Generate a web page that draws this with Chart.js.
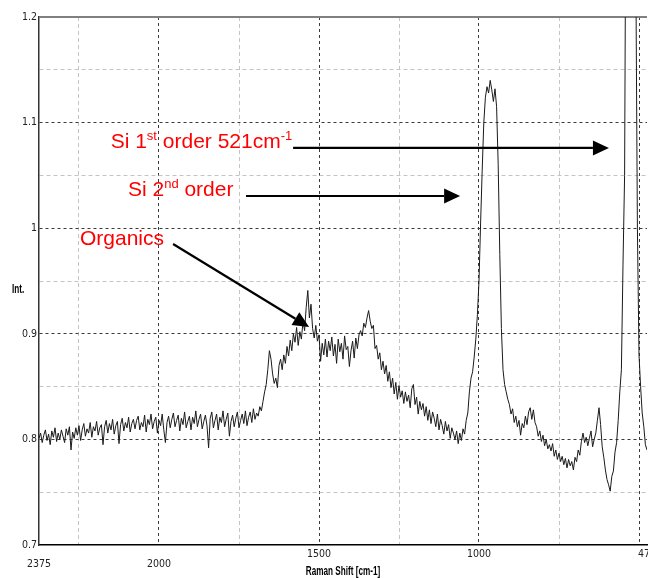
<!DOCTYPE html>
<html>
<head>
<meta charset="utf-8">
<script src="https://cdn.jsdelivr.net/npm/chart.js@4"></script>
<style>
  html, body { margin: 0; padding: 0; background: #fff; }
  canvas { display: block; }
</style>
</head>
<body>
<canvas id="ramanChart" width="648" height="578"></canvas>
<script>
// Raman shift (cm-1), high to low
const shifts = [
  2375, 2370, 2365, 2360, 2355, 2350, 2345, 2340, 2335, 2330, 2325, 2320, 2315, 2310, 2305, 2300, 2295, 2290, 2285, 2280,
  2275, 2270, 2265, 2260, 2255, 2250, 2245, 2240, 2235, 2230, 2225, 2220, 2215, 2210, 2205, 2200, 2195, 2190, 2185, 2180,
  2175, 2170, 2165, 2160, 2155, 2150, 2145, 2140, 2135, 2130, 2125, 2120, 2115, 2110, 2105, 2100, 2095, 2090, 2085, 2080,
  2075, 2070, 2065, 2060, 2055, 2050, 2045, 2040, 2035, 2030, 2025, 2020, 2015, 2010, 2005, 2000, 1995, 1990, 1985, 1980,
  1975, 1970, 1965, 1960, 1955, 1950, 1945, 1940, 1935, 1930, 1925, 1920, 1915, 1910, 1905, 1900, 1895, 1890, 1885, 1880,
  1875, 1870, 1865, 1860, 1855, 1850, 1845, 1840, 1835, 1830, 1825, 1820, 1815, 1810, 1805, 1800, 1795, 1790, 1785, 1780,
  1775, 1770, 1765, 1760, 1755, 1750, 1745, 1740, 1735, 1730, 1725, 1720, 1715, 1710, 1705, 1700, 1695, 1690, 1685, 1680,
  1675, 1670, 1665, 1660, 1655, 1650, 1645, 1640, 1635, 1630, 1625, 1620, 1615, 1610, 1605, 1600, 1595, 1590, 1585, 1580,
  1575, 1570, 1565, 1560, 1555, 1550, 1545, 1540, 1535, 1530, 1525, 1520, 1515, 1510, 1505, 1500, 1495, 1490, 1485, 1480,
  1475, 1470, 1465, 1460, 1455, 1450, 1445, 1440, 1435, 1430, 1425, 1420, 1415, 1410, 1405, 1400, 1395, 1390, 1385, 1380,
  1375, 1370, 1365, 1360, 1355, 1350, 1345, 1340, 1335, 1330, 1325, 1320, 1315, 1310, 1305, 1300, 1295, 1290, 1285, 1280,
  1275, 1270, 1265, 1260, 1255, 1250, 1245, 1240, 1235, 1230, 1225, 1220, 1215, 1210, 1205, 1200, 1195, 1190, 1185, 1180,
  1175, 1170, 1165, 1160, 1155, 1150, 1145, 1140, 1135, 1130, 1125, 1120, 1115, 1110, 1105, 1100, 1095, 1090, 1085, 1080,
  1075, 1070, 1065, 1060, 1055, 1050, 1045, 1040, 1035, 1030, 1025, 1020, 1015, 1010, 1005, 1000, 995, 990, 985, 980,
  975, 970, 965, 960, 955, 950, 945, 940, 935, 930, 925, 920, 915, 910, 905, 900, 895, 890, 885, 880,
  875, 870, 865, 860, 855, 850, 845, 840, 835, 830, 825, 820, 815, 810, 805, 800, 795, 790, 785, 780,
  775, 770, 765, 760, 755, 750, 745, 740, 735, 730, 725, 720, 715, 710, 705, 700, 695, 690, 685, 680,
  675, 670, 665, 660, 655, 650, 645, 640, 635, 630, 625, 620, 615, 610, 605, 600, 595, 590, 585, 580,
  575, 570, 565, 560, 555, 550, 545, 540, 535, 530, 525, 520, 515, 510, 505, 500, 495, 490, 485, 480,
  475
];

// Intensity at each shift (same rows as above)
const intensity = [
  0.801, 0.806, 0.797, 0.804, 0.809, 0.799, 0.805, 0.795, 0.808, 0.802, 0.811, 0.798, 0.806, 0.800, 0.809, 0.803, 0.797, 0.810, 0.804, 0.812,
  0.790, 0.807, 0.801, 0.811, 0.804, 0.813, 0.799, 0.809, 0.815, 0.803, 0.810, 0.806, 0.816, 0.802, 0.812, 0.808, 0.817, 0.804, 0.811, 0.814,
  0.795, 0.812, 0.818, 0.806, 0.815, 0.809, 0.819, 0.805, 0.813, 0.817, 0.796, 0.814, 0.820, 0.808, 0.816, 0.811, 0.821, 0.807, 0.815, 0.819,
  0.810, 0.818, 0.822, 0.809, 0.816, 0.812, 0.823, 0.807, 0.819, 0.814, 0.824, 0.810, 0.817, 0.821, 0.806, 0.818, 0.813, 0.824, 0.809, 0.797,
  0.816, 0.822, 0.811, 0.819, 0.825, 0.812, 0.818, 0.823, 0.808, 0.820, 0.814, 0.826, 0.811, 0.817, 0.822, 0.809, 0.821, 0.815, 0.827, 0.812,
  0.819, 0.824, 0.810, 0.817, 0.823, 0.813, 0.792, 0.820, 0.826, 0.811, 0.818, 0.824, 0.809, 0.821, 0.816, 0.827, 0.812, 0.819, 0.825, 0.803,
  0.817, 0.823, 0.812, 0.820, 0.826, 0.811, 0.818, 0.824, 0.815, 0.827, 0.813, 0.821, 0.826, 0.816, 0.829, 0.819, 0.825, 0.822, 0.831, 0.827,
  0.836, 0.845, 0.852, 0.866, 0.884, 0.876, 0.862, 0.853, 0.858, 0.849, 0.870, 0.876, 0.866, 0.880, 0.872, 0.888, 0.879, 0.894, 0.884, 0.900,
  0.892, 0.906, 0.889, 0.902, 0.895, 0.912, 0.903, 0.925, 0.941, 0.915, 0.928, 0.905, 0.896, 0.908, 0.893, 0.899, 0.874, 0.891, 0.880, 0.895,
  0.878, 0.893, 0.884, 0.897, 0.879, 0.890, 0.872, 0.895, 0.883, 0.891, 0.876, 0.898, 0.885, 0.888, 0.869, 0.884, 0.893, 0.877, 0.896, 0.886,
  0.899, 0.903, 0.898, 0.910, 0.906, 0.915, 0.922, 0.912, 0.905, 0.908, 0.886, 0.889, 0.876, 0.882, 0.866, 0.874, 0.862, 0.870, 0.855, 0.864,
  0.849, 0.858, 0.843, 0.854, 0.838, 0.851, 0.840, 0.846, 0.834, 0.845, 0.836, 0.842, 0.830, 0.848, 0.852, 0.833, 0.840, 0.824, 0.836, 0.828,
  0.834, 0.822, 0.831, 0.818, 0.828, 0.815, 0.826, 0.820, 0.812, 0.824, 0.809, 0.819, 0.813, 0.805, 0.817, 0.808, 0.814, 0.801, 0.811, 0.806,
  0.800, 0.808, 0.796, 0.806, 0.799, 0.810, 0.805, 0.818, 0.825, 0.845, 0.858, 0.864, 0.878, 0.895, 0.918, 0.950, 1.005, 1.055, 1.100, 1.124,
  1.134, 1.128, 1.140, 1.131, 1.120, 1.132, 1.115, 1.060, 0.975, 0.905, 0.866, 0.852, 0.845, 0.838, 0.833, 0.824, 0.829, 0.816, 0.822, 0.812,
  0.818, 0.804, 0.815, 0.811, 0.822, 0.814, 0.826, 0.830, 0.819, 0.828, 0.816, 0.812, 0.803, 0.808, 0.798, 0.804, 0.794, 0.800, 0.791, 0.795,
  0.789, 0.796, 0.784, 0.790, 0.781, 0.787, 0.779, 0.784, 0.776, 0.782, 0.773, 0.781, 0.775, 0.779, 0.771, 0.783, 0.779, 0.790, 0.785, 0.798,
  0.806, 0.797, 0.802, 0.794, 0.801, 0.808, 0.793, 0.800, 0.806, 0.818, 0.830, 0.814, 0.793, 0.783, 0.771, 0.762, 0.757, 0.751, 0.765, 0.770,
  0.788, 0.797, 0.818, 0.845, 0.866, 0.966, 1.050, 1.400, 1.800, 2.000, 2.100, 2.000, 1.700, 1.250, 1.000, 0.880, 0.850, 0.825, 0.812, 0.795,
  0.790
];

// Tick positions; 2375 and 475 are the axis ends
const xTicks = [2375, 2250, 2000, 1750, 1500, 1250, 1000, 750, 500, 475];
const xMajor = [2000, 1500, 1000, 500];
const xLabelled = [2375, 2000, 1500, 1000, 475];
const xLowered = [2375, 2000];   // these two labels sit a line lower in the original
const yTicks = [0.7, 0.75, 0.8, 0.85, 0.9, 0.95, 1.0, 1.05, 1.1, 1.15, 1.2];

const tickFont = { family: '"DejaVu Sans Condensed", "Liberation Sans", sans-serif', size: 10.5, lineHeight: 0.9 };
const darkGrid = '#3a3a3a';
const lightGrid = '#c4c4c4';

function isTenth(v) {
  return Math.abs(v * 10 - Math.round(v * 10)) < 1e-6;
}

// Draws text with superscript pieces, left aligned at x, baseline y
function drawRich(ctx, parts, x, y) {
  let cx = x;
  parts.forEach(p => {
    ctx.font = p.sup ? '13px "Liberation Sans", Arial, sans-serif' : '21px "Liberation Sans", Arial, sans-serif';
    ctx.fillText(p.t, cx, p.sup ? y - 8 : y);
    cx += ctx.measureText(p.t).width;
  });
  return cx;
}

// Narrow bold label, squeezed sideways like the original's condensed font
function drawNarrow(ctx, text, cx, cy, align) {
  ctx.save();
  ctx.font = 'bold 12px "Liberation Sans", Arial, sans-serif';
  ctx.textAlign = align;
  ctx.textBaseline = 'middle';
  ctx.translate(cx, cy);
  ctx.scale(0.68, 1);
  ctx.fillText(text, 0, 0);
  ctx.restore();
}

function drawArrow(ctx, x1, y1, x2, y2) {
  const ang = Math.atan2(y2 - y1, x2 - x1);
  const headLen = 16, headHalf = 7.5;
  const bx = x2 - headLen * Math.cos(ang);
  const by = y2 - headLen * Math.sin(ang);
  ctx.beginPath();
  ctx.moveTo(x1, y1);
  ctx.lineTo(bx, by);
  ctx.stroke();
  ctx.beginPath();
  ctx.moveTo(x2, y2);
  ctx.lineTo(bx + headHalf * Math.sin(ang), by - headHalf * Math.cos(ang));
  ctx.lineTo(bx - headHalf * Math.sin(ang), by + headHalf * Math.cos(ang));
  ctx.closePath();
  ctx.fill();
}

// Axis names, red labels and arrows, placed in data units
const annotations = {
  id: 'annotations',
  afterDatasetsDraw(chart) {
    const { ctx, chartArea, scales: { x, y } } = chart;
    ctx.save();

    ctx.fillStyle = '#000';
    drawNarrow(ctx, 'Int.', 12, y.getPixelForValue(0.9415), 'left');
    drawNarrow(ctx, 'Raman Shift [cm-1]', (chartArea.left + chartArea.right) / 2, 572, 'center');

    ctx.textAlign = 'left';
    ctx.textBaseline = 'alphabetic';
    ctx.fillStyle = '#f00';
    drawRich(ctx, [{ t: 'Si 1' }, { t: 'st', sup: true }, { t: ' order 521cm' }, { t: '-1', sup: true }],
      x.getPixelForValue(2151), y.getPixelForValue(1.076));
    drawRich(ctx, [{ t: 'Si 2' }, { t: 'nd', sup: true }, { t: ' order' }],
      x.getPixelForValue(2097), y.getPixelForValue(1.0305));
    drawRich(ctx, [{ t: 'Organics' }],
      x.getPixelForValue(2247), y.getPixelForValue(0.984));

    ctx.strokeStyle = '#000';
    ctx.fillStyle = '#000';
    ctx.lineWidth = 2.2;
    drawArrow(ctx, x.getPixelForValue(1581), y.getPixelForValue(1.076), x.getPixelForValue(594), y.getPixelForValue(1.076));
    drawArrow(ctx, x.getPixelForValue(1728), y.getPixelForValue(1.0305), x.getPixelForValue(1059), y.getPixelForValue(1.0305));
    drawArrow(ctx, x.getPixelForValue(1956), y.getPixelForValue(0.985), x.getPixelForValue(1531), y.getPixelForValue(0.9064));

    ctx.restore();
  }
};

const ctx = document.getElementById('ramanChart').getContext('2d');
new Chart(ctx, {
  type: 'line',
  data: {
    datasets: [{
      data: shifts.map((s, i) => ({ x: s, y: intensity[i] })),
      borderColor: '#1a1a1a',
      borderWidth: 1,
      pointRadius: 0,
      tension: 0,
      fill: false
    }]
  },
  options: {
    responsive: false,
    animation: false,
    devicePixelRatio: 1,
    layout: { padding: { top: 17, right: 1, left: 0, bottom: 0 } },
    plugins: {
      legend: { display: false },
      tooltip: { enabled: false }
    },
    scales: {
      x: {
        type: 'linear',
        reverse: true,
        min: 475,
        max: 2375,
        afterBuildTicks: scale => { scale.ticks = xTicks.map(v => ({ value: v })); },
        afterFit: scale => { scale.height = 33; scale.paddingLeft = 0; scale.paddingRight = 0; },
        ticks: {
          autoSkip: false,
          maxRotation: 0,
          padding: 5,
          color: '#222',
          font: tickFont,
          callback: v => {
            if (!xLabelled.includes(v)) return '';
            return xLowered.includes(v) ? ['', String(v)] : String(v);
          }
        },
        grid: {
          drawTicks: false,
          lineWidth: 1,
          color: c => {
            const v = c.tick && c.tick.value;
            if (xMajor.includes(v)) return darkGrid;
            if (v === 2375 || v === 475) return 'rgba(0,0,0,0)';
            return lightGrid;
          }
        },
        border: {
          display: true,
          color: '#000',
          width: 1.5,
          dash: c => (c.tick && xMajor.includes(c.tick.value)) ? [3, 3] : [4, 3]
        }
      },
      y: {
        min: 0.7,
        max: 1.2,
        afterBuildTicks: scale => { scale.ticks = yTicks.map(v => ({ value: v })); },
        afterFit: scale => { scale.width = 39; scale.paddingTop = 0; scale.paddingBottom = 0; },
        ticks: {
          autoSkip: false,
          padding: 2,
          color: '#222',
          font: tickFont,
          callback: v => isTenth(v) ? String(+v.toFixed(1)) : ''
        },
        grid: {
          drawTicks: false,
          lineWidth: c => (c.tick && c.tick.value === 1.2) ? 2 : 1,
          color: c => {
            const v = c.tick && c.tick.value;
            if (v === 1.2) return '#808080';
            if (v === 0.7) return 'rgba(0,0,0,0)';
            return isTenth(v) ? darkGrid : lightGrid;
          }
        },
        border: {
          display: true,
          color: '#333',
          width: 1.5,
          dash: c => {
            const v = c.tick && c.tick.value;
            if (v === 1.2) return [];
            return isTenth(v) ? [3, 3] : [4, 3];
          }
        }
      }
    }
  },
  plugins: [annotations]
});
</script>
</body>
</html>
